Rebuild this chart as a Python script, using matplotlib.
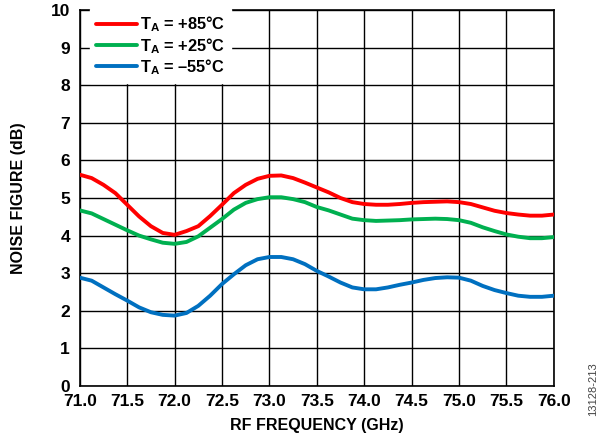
import matplotlib.pyplot as plt

plt.rcParams['font.family'] = ['Liberation Sans', 'DejaVu Sans']
plt.rcParams['mathtext.fontset'] = 'custom'
plt.rcParams['mathtext.rm'] = 'Liberation Sans:bold'
plt.rcParams['mathtext.it'] = 'Liberation Sans:bold'
plt.rcParams['mathtext.bf'] = 'Liberation Sans:bold'

# Fréquences RF (GHz)
freq = [71.0, 71.125, 71.25, 71.375, 71.5, 71.625, 71.75, 71.875,
        72.0, 72.125, 72.25, 72.375, 72.5, 72.625, 72.75, 72.875,
        73.0, 73.125, 73.25, 73.375, 73.5, 73.625, 73.75, 73.875,
        74.0, 74.125, 74.25, 74.375, 74.5, 74.625, 74.75, 74.875,
        75.0, 75.125, 75.25, 75.375, 75.5, 75.625, 75.75, 75.875, 76.0]

# Facteur de bruit (dB) par température
nf_85 = [5.62, 5.53, 5.35, 5.13, 4.82, 4.51, 4.25, 4.07,
         4.02, 4.12, 4.25, 4.52, 4.82, 5.13, 5.35, 5.51,
         5.59, 5.60, 5.53, 5.41, 5.28, 5.15, 5.00, 4.89,
         4.84, 4.82, 4.82, 4.84, 4.87, 4.89, 4.90, 4.91,
         4.89, 4.84, 4.75, 4.66, 4.60, 4.56, 4.53, 4.53, 4.56]
nf_25 = [4.67, 4.59, 4.44, 4.29, 4.14, 4.00, 3.90, 3.81,
         3.78, 3.83, 3.98, 4.21, 4.44, 4.69, 4.87, 4.97,
         5.02, 5.02, 4.97, 4.89, 4.76, 4.67, 4.56, 4.45,
         4.41, 4.39, 4.40, 4.41, 4.43, 4.44, 4.45, 4.44,
         4.41, 4.34, 4.22, 4.12, 4.03, 3.97, 3.93, 3.93, 3.96]
nf_m55 = [2.88, 2.80, 2.62, 2.44, 2.27, 2.09, 1.96, 1.89,
          1.87, 1.94, 2.13, 2.40, 2.71, 2.97, 3.21, 3.37,
          3.43, 3.43, 3.37, 3.24, 3.06, 2.91, 2.75, 2.62,
          2.57, 2.57, 2.62, 2.69, 2.75, 2.82, 2.87, 2.89,
          2.88, 2.80, 2.66, 2.55, 2.47, 2.40, 2.37, 2.37, 2.40]

labels = [r'$\mathrm{T_A}$ = +85°C', r'$\mathrm{T_A}$ = +25°C', r'$\mathrm{T_A}$ = –55°C']
colors = ['#ff0000', '#00b050', '#0070c0']
xticks = [71.0, 71.5, 72.0, 72.5, 73.0, 73.5, 74.0, 74.5, 75.0, 75.5, 76.0]

fig = plt.figure(figsize=(6, 4.4), dpi=100)
ax = fig.add_axes([0.133, 0.123, 0.79, 0.854])

for series, lab, col in zip([nf_85, nf_25, nf_m55], labels, colors):
    ax.plot(freq, series, color=col, linewidth=2.8, label=lab, zorder=3,
            solid_capstyle='round', solid_joinstyle='round')

ax.set_xlim(71, 76)
ax.set_ylim(0, 10)
ax.set_xticks(xticks)
ax.set_xticklabels([f"{v:.1f}" for v in xticks])
ax.set_yticks(range(11))
ax.grid(True, color='black', linewidth=1.0)
ax.tick_params(length=0, labelsize=12.5)
ax.tick_params(axis='x', pad=6)
ax.tick_params(axis='y', pad=7)
for lbl in ax.get_xticklabels() + ax.get_yticklabels():
    lbl.set_fontweight('bold')
for sp in ax.spines.values():
    sp.set_linewidth(1.2)

ax.set_xlabel("RF FREQUENCY (GHz)", fontsize=11.5, fontweight='bold', labelpad=6)
ax.set_ylabel("NOISE FIGURE (dB)", fontsize=11.5, fontweight='bold', labelpad=18)

leg = ax.legend(loc='upper left', bbox_to_anchor=(0.018, 1.008), frameon=True,
                fontsize=11.8, handlelength=2.5, handletextpad=0.2,
                labelspacing=0.1, borderaxespad=0.1, borderpad=0.35,
                fancybox=False)
leg.get_frame().set_edgecolor('white')
leg.get_frame().set_facecolor('white')
leg.get_frame().set_alpha(1)
for t in leg.get_texts():
    t.set_fontweight('bold')

fig.text(0.988, 0.115, "13128-213", rotation=90, fontsize=8, color='#444444',
         ha='center', va='center')

fig.savefig("out.png", dpi=100)
